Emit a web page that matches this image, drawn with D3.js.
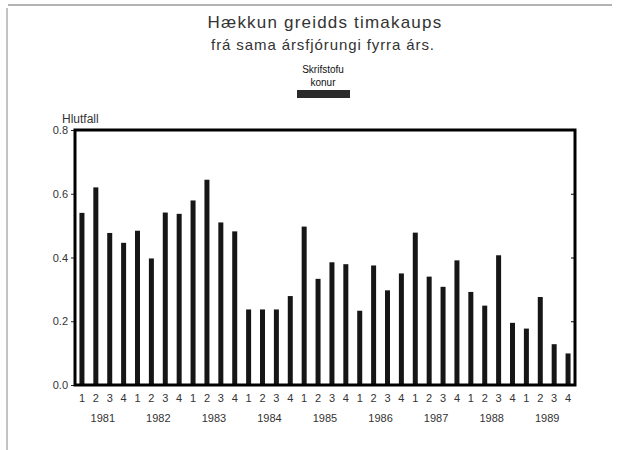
<!DOCTYPE html>
<html>
<head>
<meta charset="utf-8">
<script src="https://cdn.jsdelivr.net/npm/d3@7"></script>
<style>
  body { margin: 0; background: #fff; }
  text { font-family: "Liberation Sans", Arial, sans-serif; fill: #111; }
</style>
</head>
<body>
<svg id="chart" width="639" height="450"></svg>
<script>
// data
var years = ['1981', '1982', '1983', '1984', '1985', '1986', '1987', '1988', '1989'];
var quarters = ['1', '2', '3', '4'];
var values = [
  0.54, 0.62, 0.477, 0.446,
  0.484, 0.397, 0.541, 0.537,
  0.579, 0.644, 0.51, 0.482,
  0.237, 0.237, 0.237, 0.279,
  0.497, 0.333, 0.385, 0.379,
  0.233, 0.375, 0.297, 0.35,
  0.478, 0.34, 0.308, 0.391,
  0.292, 0.249, 0.407, 0.195,
  0.177, 0.276, 0.128, 0.099
];
var yTicks = [0.0, 0.2, 0.4, 0.6, 0.8];

// layout
var plot = {left: 75, right: 575, top: 130, bottom: 385};

var svg = d3.select('#chart');

// page border lines from the scan
svg.append('line').attr('x1', 8).attr('y1', 5).attr('x2', 612).attr('y2', 5)
  .attr('stroke', '#666').attr('stroke-width', 1);
svg.append('line').attr('x1', 7).attr('y1', 8).attr('x2', 7).attr('y2', 450)
  .attr('stroke', '#888').attr('stroke-width', 1);

// scales
var x = d3.scaleBand()
  .domain(d3.range(values.length))
  .range([plot.left, plot.right])
  .paddingInner(0.64)
  .paddingOuter(0.32);
var y = d3.scaleLinear().domain([0, 0.8]).range([plot.bottom, plot.top]);

// titles
svg.append('text')
  .attr('x', 325).attr('y', 28)
  .attr('text-anchor', 'middle')
  .style('font-size', '17px')
  .style('letter-spacing', '1.2px')
  .style('fill', '#333')
  .text('Hækkun greidds timakaups');
svg.append('text')
  .attr('x', 323).attr('y', 50)
  .attr('text-anchor', 'middle')
  .style('font-size', '15px')
  .style('letter-spacing', '0.9px')
  .style('fill', '#333')
  .text('frá sama ársfjórungi fyrra árs.');

// legend
svg.append('text')
  .attr('x', 323).attr('y', 73)
  .attr('text-anchor', 'middle')
  .style('font-size', '10px')
  .text('Skrifstofu');
svg.append('text')
  .attr('x', 323).attr('y', 86)
  .attr('text-anchor', 'middle')
  .style('font-size', '10px')
  .text('konur');
svg.append('rect')
  .attr('x', 297).attr('y', 90)
  .attr('width', 53).attr('height', 8)
  .attr('fill', '#2a2a2a');

// y axis label
svg.append('text')
  .attr('x', 62).attr('y', 123)
  .style('font-size', '12px')
  .style('fill', '#333')
  .text('Hlutfall');

// bars
svg.selectAll('rect.bar')
  .data(values)
  .enter()
  .append('rect')
    .classed('bar', true)
    .attr('x', function(d, i) { return x(i); })
    .attr('y', function(d) { return y(d); })
    .attr('width', x.bandwidth())
    .attr('height', function(d) { return y(0) - y(d); })
    .attr('fill', '#161616');

// y axis
var yAxis = svg.append('g')
  .attr('transform', 'translate(' + plot.left + ',0)')
  .call(d3.axisLeft(y).tickValues(yTicks).tickFormat(d3.format('.1f')).tickSize(4).tickPadding(3));
yAxis.select('.domain').remove();
yAxis.selectAll('text').style('font-size', '11px').style('fill', '#333');
yAxis.selectAll('line').attr('stroke', '#222');

// right side inner ticks
svg.append('g')
  .attr('transform', 'translate(' + plot.right + ',0)')
  .call(d3.axisLeft(y).tickValues(yTicks).tickSize(4).tickFormat(''))
  .select('.domain').remove();

// frame
svg.append('rect')
  .attr('x', plot.left).attr('y', plot.top)
  .attr('width', plot.right - plot.left).attr('height', plot.bottom - plot.top)
  .attr('fill', 'none')
  .attr('stroke', '#000')
  .attr('stroke-width', 3);

// quarter labels
svg.selectAll('text.q')
  .data(values)
  .enter()
  .append('text')
    .classed('q', true)
    .attr('x', function(d, i) { return x(i) + x.bandwidth() / 2; })
    .attr('y', 402)
    .attr('text-anchor', 'middle')
    .style('font-size', '11px')
    .style('fill', '#333')
    .text(function(d, i) { return quarters[i % 4]; });

// year labels, centred between Q2 and Q3
svg.selectAll('text.yr')
  .data(years)
  .enter()
  .append('text')
    .classed('yr', true)
    .attr('x', function(d, i) { return (x(i * 4 + 1) + x(i * 4 + 2)) / 2 + x.bandwidth() / 2; })
    .attr('y', 422)
    .attr('text-anchor', 'middle')
    .style('font-size', '11px')
    .style('fill', '#333')
    .text(function(d) { return d; });
</script>
</body>
</html>
